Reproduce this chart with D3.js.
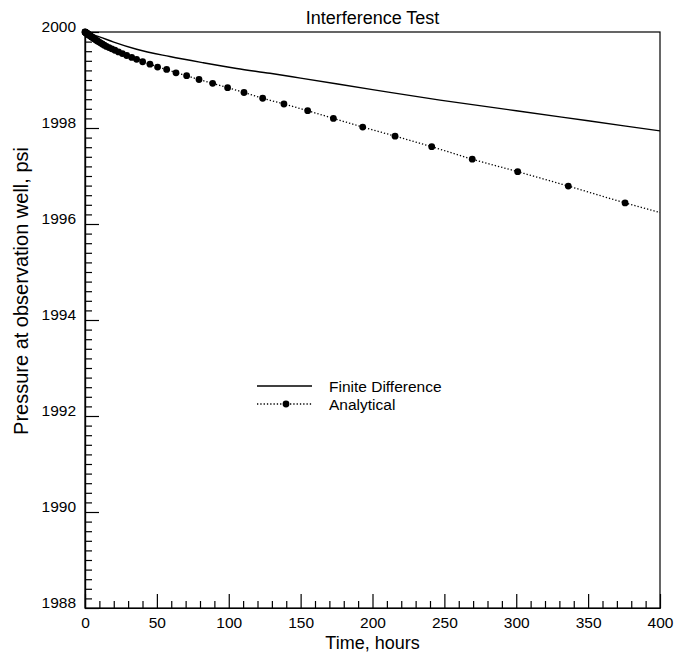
<!DOCTYPE html>
<html>
<head>
<meta charset="utf-8">
<script src="https://cdn.jsdelivr.net/npm/d3@7"></script>
<style>
  html, body { margin: 0; padding: 0; background: #fff; }
  svg { display: block; font-family: "Liberation Sans", Arial, sans-serif; }
</style>
</head>
<body>
<svg id="chart" width="674" height="658"></svg>
<script>
// Finite-difference simulator result (continuous curve)
const fdTime = [0, 2, 5, 10, 20, 35.9, 59, 82.3, 105.5, 128.7, 150, 200, 247, 300, 350, 400];
const fdPressure = [2000, 1999.985, 1999.95, 1999.90, 1999.79, 1999.64, 1999.49, 1999.36, 1999.24,
  1999.14, 1999.04, 1998.80, 1998.58, 1998.36, 1998.15, 1997.94];

// Analytical (line-source) solution, sampled at the marker times
const anTime = [0, 0.1, 0.2, 0.3, 0.45, 0.6, 0.8, 1.0, 1.2, 1.4, 1.6, 1.8, 2.0, 2.3, 2.5, 2.8, 3.2, 3.5,
  3.9, 4.4, 4.9, 5.5, 6.2, 6.9, 7.7, 8.6, 9.6, 10.7, 12.0, 13.4, 14.9, 16.7, 18.6, 20.8, 23.3, 26.0,
  29.0, 32.5, 35.9, 40.1, 45.2, 50.5, 56.8, 63.3, 70.7, 79.3, 88.8, 99.2, 110.6, 123.6, 138.4, 154.9,
  172.8, 193.2, 215.7, 241.2, 269.4, 301.0, 336.2, 375.7];
const anPressure = [2000, 1999.998, 1999.996, 1999.994, 1999.991, 1999.988, 1999.983, 1999.979,
  1999.974, 1999.970, 1999.965, 1999.960, 1999.956, 1999.950, 1999.945, 1999.938, 1999.930, 1999.922,
  1999.913, 1999.902, 1999.891, 1999.878, 1999.863, 1999.849, 1999.832, 1999.814, 1999.795, 1999.775,
  1999.750, 1999.725, 1999.700, 1999.675, 1999.650, 1999.620, 1999.585, 1999.550,
  1999.51, 1999.47, 1999.43, 1999.38, 1999.33, 1999.27, 1999.22, 1999.15, 1999.09, 1999.01, 1998.93,
  1998.84, 1998.74, 1998.62, 1998.50, 1998.36, 1998.20, 1998.02, 1997.83, 1997.61, 1997.35, 1997.09,
  1996.79, 1996.44];
// Analytical curve continues past the last marker to the end of the run
const anEndTime = [400];
const anEndPressure = [1996.24];

const xMajorTicks = [0, 50, 100, 150, 200, 250, 300, 350, 400];
const yMajorTicks = [1988, 1990, 1992, 1994, 1996, 1998, 2000];
const seriesNames = ["Finite Difference", "Analytical"];

const margin = { left: 85, top: 32, right: 14, bottom: 50 };
const W = 674, H = 658;
const pw = W - margin.left - margin.right;   // 575
const ph = H - margin.top - margin.bottom;   // 576

const svg = d3.select("#chart");
const g = svg.append("g").attr("transform", `translate(${margin.left},${margin.top})`);

const x = d3.scaleLinear().domain([0, 400]).range([0, pw]);
const y = d3.scaleLinear().domain([1988, 2000]).range([ph, 0]);

const xMinor = d3.range(0, 401, 10).filter(v => v % 50 !== 0);
const yMinor = d3.range(0, 61).map(i => 1988 + i * 0.2).filter((v, i) => i % 10 !== 0);

// frame (top and right edges)
g.append("rect").attr("x", 0).attr("y", 0).attr("width", pw).attr("height", ph)
  .attr("fill", "none").attr("stroke", "#000").attr("stroke-width", 1.2);

// x axis: inward ticks
const xAxisMinor = d3.axisBottom(x).tickValues(xMinor).tickSizeInner(-7).tickSizeOuter(0).tickFormat("");
const xAxisMajor = d3.axisBottom(x).tickValues(xMajorTicks).tickSizeInner(-14).tickSizeOuter(0)
  .tickPadding(9).tickFormat(d3.format("d"));
g.append("g").attr("transform", `translate(0,${ph})`).call(xAxisMinor);
const gx = g.append("g").attr("transform", `translate(0,${ph})`).call(xAxisMajor);

// y axis: inward ticks
const yAxisMinor = d3.axisLeft(y).tickValues(yMinor).tickSizeInner(-7).tickSizeOuter(0).tickFormat("");
const yAxisMajor = d3.axisLeft(y).tickValues(yMajorTicks).tickSizeInner(-14).tickSizeOuter(0)
  .tickPadding(9).tickFormat(d3.format("d"));
g.append("g").call(yAxisMinor);
const gy = g.append("g").call(yAxisMajor);

g.selectAll(".domain, .tick line").attr("stroke", "#000").attr("stroke-width", 1.2);
gx.selectAll("text").attr("font-size", 15.5).attr("fill", "#000").attr("font-family", "Liberation Sans, Arial, sans-serif");
gy.selectAll("text").attr("font-size", 15.5).attr("fill", "#000").attr("dy", "-0.02em")
  .attr("font-family", "Liberation Sans, Arial, sans-serif");

// clip to plot area
svg.append("defs").append("clipPath").attr("id", "plotClip")
  .append("rect").attr("x", -6).attr("y", -6).attr("width", pw + 6).attr("height", ph + 6);
const plot = g.append("g").attr("clip-path", "url(#plotClip)");

const line = d3.line().x(d => x(d[0])).y(d => y(d[1])).curve(d3.curveMonotoneX);

const fdData = fdTime.map((t, i) => [t, fdPressure[i]]);
const anData = anTime.map((t, i) => [t, anPressure[i]]);
const anLineData = anData.concat(anEndTime.map((t, i) => [t, anEndPressure[i]]));

plot.append("path").datum(fdData).attr("d", line)
  .attr("fill", "none").attr("stroke", "#000").attr("stroke-width", 1.4);

plot.append("path").datum(anLineData).attr("d", line)
  .attr("fill", "none").attr("stroke", "#000").attr("stroke-width", 1.3)
  .attr("stroke-dasharray", "1.3,2");

plot.selectAll("circle.an").data(anData).join("circle").attr("class", "an")
  .attr("cx", d => x(d[0])).attr("cy", d => y(d[1])).attr("r", 3.4).attr("fill", "#000");

// legend
const lg = svg.append("g").attr("transform", "translate(257,386)");
lg.append("line").attr("x1", 0).attr("x2", 55).attr("y1", 0).attr("y2", 0)
  .attr("stroke", "#000").attr("stroke-width", 1.4);
lg.append("line").attr("x1", 0).attr("x2", 55).attr("y1", 18).attr("y2", 18)
  .attr("stroke", "#000").attr("stroke-width", 1.3).attr("stroke-dasharray", "1.3,2");
lg.append("circle").attr("cx", 29).attr("cy", 18).attr("r", 3.4).attr("fill", "#000");
lg.selectAll("text.leg").data(seriesNames).join("text").attr("class", "leg")
  .attr("x", 72).attr("y", (d, i) => i * 18 + 5.5)
  .attr("font-size", 15.5).attr("fill", "#000").text(d => d);

// titles
svg.append("text").attr("x", margin.left + pw / 2).attr("y", 24).attr("text-anchor", "middle")
  .attr("font-size", 18).attr("fill", "#000").text("Interference Test");
svg.append("text").attr("x", margin.left + pw / 2).attr("y", 649).attr("text-anchor", "middle")
  .attr("font-size", 18).attr("fill", "#000").text("Time, hours");
svg.append("text").attr("transform", "translate(28,291) rotate(-90)").attr("text-anchor", "middle")
  .attr("font-size", 20).attr("fill", "#000").text("Pressure at observation well, psi");
</script>
</body>
</html>
